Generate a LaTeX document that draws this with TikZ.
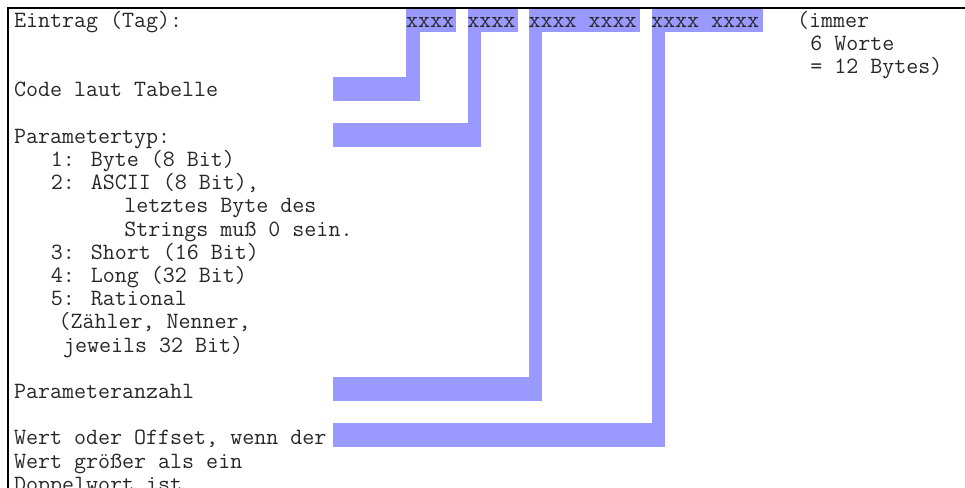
\documentclass[tikz,border=0pt]{standalone}
\usepackage{fontspec}
\definecolor{hl}{RGB}{153,153,255}
\definecolor{ink}{RGB}{40,40,40}
\tikzset{
  txt/.style={anchor=base west, inner sep=0pt, outer sep=0pt, text=ink,
    font=\ttfamily\fontsize{23.33bp}{23.2bp}\selectfont},
  hlrect/.style={fill=hl, draw=none, inner sep=0pt, outer sep=0pt, anchor=north west},
  frame/.style={draw=black, line width=1.5bp}
}

\begin{document}
\begin{tikzpicture}[x=1bp, y=-1bp]
  \useasboundingbox (0,0) rectangle (965,488);

  % highlighted fields of the entry
  \node[hlrect, minimum width=50bp,  minimum height=23bp] (f1) at (406,9) {};
  \node[hlrect, minimum width=50bp,  minimum height=23bp] (f2) at (468,9) {};
  \node[hlrect, minimum width=111bp, minimum height=23bp] (f3) at (529,9) {};
  \node[hlrect, minimum width=111bp, minimum height=23bp] (f4) at (652,9) {};

  % highlighted bars behind the descriptions
  \node[hlrect, minimum width=86.5bp,  minimum height=24bp] (b1) at (333,77)  {};
  \node[hlrect, minimum width=148bp,   minimum height=24bp] (b2) at (333,123) {};
  \node[hlrect, minimum width=209bp,   minimum height=24bp] (b3) at (333,377) {};
  \node[hlrect, minimum width=332bp,   minimum height=24bp] (b4) at (333,423) {};

  % vertical links from each field down to its bar
  \fill[hl] ([yshift=0.5bp]f1.south west) rectangle ([yshift=-0.5bp]b1.north east);
  \fill[hl] ([yshift=0.5bp]f2.south west) rectangle ([yshift=-0.5bp]b2.north east);
  \fill[hl] ([yshift=0.5bp]f3.south west) rectangle ([yshift=-0.5bp]b3.north east);
  \fill[hl] ([yshift=0.5bp]f4.south west) rectangle ([yshift=-0.5bp]b4.north east);

  % frame
  \draw[frame] (8,488) -- (8,8) -- (965,8);

  % entry line
  \node[txt] (t0)  at (14,27.3)      {Eintrag (Tag):};
  \node[txt] (x1)  at (406,27.3)     {xxxx};
  \node[txt] (x2)  at (467.25,27.3)  {xxxx};
  \node[txt] (x3)  at (528.5,27.3)   {xxxx xxxx};
  \node[txt] (x4)  at (651,27.3)     {xxxx xxxx};
  \node[txt] (n1)  at (797,27.3)     {(immer};
  \node[txt] (n2)  at (810.25,50.5)  {6 Worte};
  \node[txt] (n3)  at (810.25,73.7)  {= 12 Bytes)};

  % descriptions
  \node[txt] (d1)  at (14,96.9)      {Code laut Tabelle};
  \node[txt] (d2)  at (14,143.3)     {Parametertyp:};
  \node[txt] (d3)  at (50.75,166.5)  {1: Byte (8 Bit)};
  \node[txt] (d4)  at (50.75,189.7)  {2: ASCII (8 Bit),};
  \node[txt] (d5)  at (124.25,212.9) {letztes Byte des};
  \node[txt] (d6)  at (124.25,236.1) {Strings muß 0 sein.};
  \node[txt] (d7)  at (50.75,259.3)  {3: Short (16 Bit)};
  \node[txt] (d8)  at (50.75,282.5)  {4: Long (32 Bit)};
  \node[txt] (d9)  at (50.75,305.7)  {5: Rational};
  \node[txt] (d10) at (58.5,328.9)   {(Zähler, Nenner,};
  \node[txt] (d11) at (63,352.1)     {jeweils 32 Bit)};
  \node[txt] (d12) at (14,398.5)     {Parameteranzahl};
  \node[txt] (d13) at (14,444.9)     {Wert oder Offset, wenn der};
  \node[txt] (d14) at (14,468.1)     {Wert größer als ein};
  \node[txt] (d15) at (14,491.3)     {Doppelwort ist.};
\end{tikzpicture}
\end{document}
